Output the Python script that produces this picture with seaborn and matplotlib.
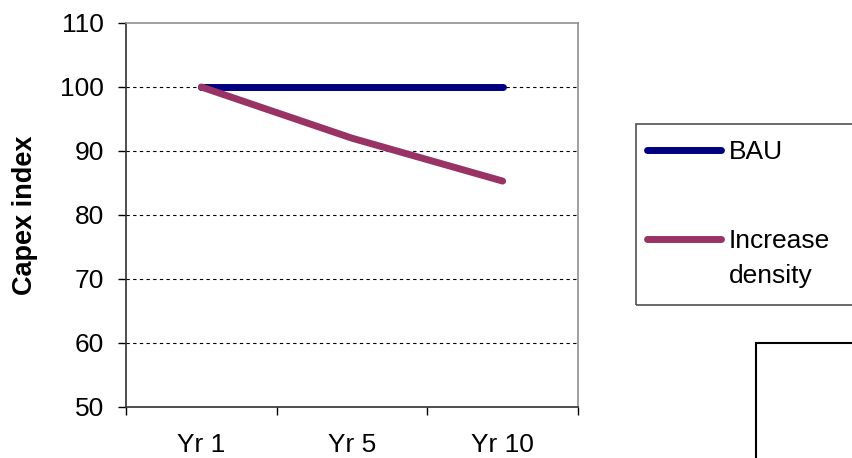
import numpy as np
import pandas as pd
import matplotlib.pyplot as plt
import matplotlib.patches as patches
from matplotlib.legend_handler import HandlerLine2D
import seaborn as sns

years = ["Yr 1", "Yr 5", "Yr 10"]
bau = [100, 100, 100]
increase_density = [100, 92, 85.3]

df = pd.DataFrame({
    "year": years * 2,
    "capex": bau + increase_density,
    "scenario": ["BAU"] * 3 + ["Increase\ndensity"] * 3,
})

sns.set_style("white")
plt.rcParams["font.family"] = ["Liberation Sans", "DejaVu Sans"]
plt.rcParams["text.color"] = "black"
plt.rcParams["axes.labelcolor"] = "black"
plt.rcParams["xtick.color"] = "black"
plt.rcParams["ytick.color"] = "black"


# put the legend line next to the first line of a two-line label
class TopLine(HandlerLine2D):
    def __init__(self, shift, **kw):
        super().__init__(**kw)
        self.shift = shift

    def create_artists(self, *args, **kw):
        arts = super().create_artists(*args, **kw)
        for a in arts:
            a.set_ydata(np.asarray(a.get_ydata()) + self.shift)
        return arts


fig = plt.figure(figsize=(8.52, 4.58), dpi=100)
ax = fig.add_axes([126 / 852, 1 - 407 / 458, 452 / 852, 384 / 458])

sns.lineplot(
    data=df,
    x="year",
    y="capex",
    hue="scenario",
    palette=["#000080", "#993366"],
    linewidth=5,
    solid_capstyle="round",
    sort=False,
    ax=ax)

ax.set_xlim(-0.5, 2.5)
ax.set_ylim(50, 110)
ax.set_yticks(range(50, 111, 10))
ax.set_xticks([0, 1, 2])
ax.set_xticklabels(years)
ax.set_xticks([-0.5, 0.5, 1.5, 2.5], minor=True)
ax.tick_params(axis="x", which="major", length=0, pad=19, labelsize=19)
ax.tick_params(axis="x", which="minor", length=6, width=1, color="black", direction="out")
ax.tick_params(axis="y", length=6, width=1, color="black", direction="out", labelsize=19, pad=10)
ax.tick_params(axis="both", bottom=True, left=True, which="both")

for y in range(60, 101, 10):
    ax.axhline(y, color="black", linestyle=(0, (3, 3)), linewidth=0.8, zorder=0)

ax.spines["left"].set_color("#303030")
ax.spines["bottom"].set_color("#303030")
ax.spines["top"].set_color("#909090")
ax.spines["right"].set_color("#909090")
for s in ax.spines.values():
    s.set_linewidth(1.2)

ax.set_xlabel("")
ax.set_ylabel("Capex index", fontsize=19.5, fontweight="bold")
ax.yaxis.set_label_coords(-0.195, 0.5)

# legend frame runs off the edge of the picture, so draw it as a patch
fig.patches.append(patches.Rectangle((636 / 852, 1 - 305 / 458), 0.5, 181 / 458,
                                     transform=fig.transFigure, fill=False,
                                     edgecolor="#505050", linewidth=1.2))
fig.patches.append(patches.Rectangle((756 / 852, -0.1), 0.5, 0.1 + 115 / 458,
                                     transform=fig.transFigure, fill=False,
                                     edgecolor="black", linewidth=1.5))

handles, labels = ax.get_legend_handles_labels()
ax.get_legend().remove()
leg = fig.legend(handles, labels, loc="upper left", bbox_to_anchor=(647 / 852, 1 - 140 / 458),
                 frameon=False, fontsize=19, handlelength=2.8, handletextpad=0.3,
                 labelspacing=2.45, borderaxespad=0, borderpad=0,
                 handler_map={handles[1]: TopLine(14)})
for t in leg.get_texts():
    t.set_linespacing(1.6)

fig.savefig("out.png", dpi=100)
